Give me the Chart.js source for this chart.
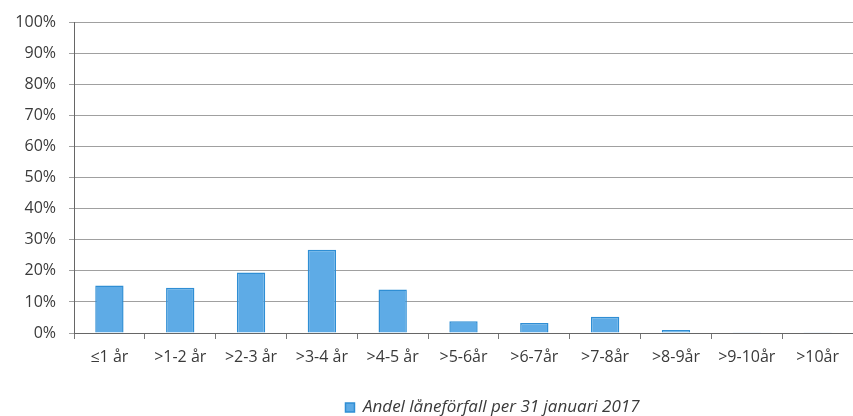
<!DOCTYPE html>
<html>
<head>
<meta charset="utf-8">
<script src="https://cdn.jsdelivr.net/npm/chart.js@4"></script>
<style>
html,body{margin:0;padding:0;background:#fff;overflow:hidden;}
#wrap{width:853px;height:416px;}
</style>
</head>
<body>
<div id="wrap"><canvas id="c" width="853" height="416"></canvas></div>
<script>
const categories = ["≤1 år", ">1-2 år", ">2-3 år", ">3-4 år", ">4-5 år", ">5-6år", ">6-7år", ">7-8år", ">8-9år", ">9-10år", ">10år"];
const shareValues = [15.3, 14.6, 19.5, 26.8, 14.0, 3.8, 3.2, 5.2, 1.0, 0.1, 0.1];
const seriesName = "Andel låneförfall per 31 januari 2017";
const yTicks = [0, 10, 20, 30, 40, 50, 60, 70, 80, 90, 100];

const textColor = '#3a3a3a';
const fontFamily = "'Open Sans', 'Liberation Sans', sans-serif";

const shiftLegend = {
  id: 'shiftLegend',
  afterLayout(chart) {
    const lg = chart.legend;
    if (lg) { lg.left += 66; lg.right += 66; }
  }
};

new Chart(document.getElementById('c'), {
  type: 'bar',
  data: {
    labels: categories,
    datasets: [{
      label: seriesName,
      data: shareValues,
      backgroundColor: '#5eabe6',
      borderColor: '#2f8ed4',
      borderWidth: 1.5,
      barPercentage: 0.5,
      categoryPercentage: 0.8
    }]
  },
  options: {
    responsive: false,
    animation: false,
    layout: { padding: { top: 20, right: 0, left: 0, bottom: -10 } },
    plugins: {
      tooltip: { enabled: false },
      legend: {
        position: 'bottom',
        labels: {
          boxWidth: 9, boxHeight: 9,
          color: textColor,
          padding: 0,
          font: { family: fontFamily, size: 17, style: 'italic' }
        }
      }
    },
    scales: {
      x: {
        afterFit(scale) { scale.height = 66; },
        grid: { drawOnChartArea: false, drawTicks: true, tickLength: 6, color: '#777', offset: true },
        border: { display: true, color: '#666', width: 1 },
        ticks: { color: textColor, padding: 9, maxRotation: 0, autoSkip: false, font: { family: fontFamily, size: 16 } }
      },
      y: {
        min: 0, max: 100,
        afterFit(scale) { scale.width = 74; },
        afterBuildTicks(scale) { scale.ticks = yTicks.map(v => ({ value: v })); },
        grid: { color: '#a0a0a0', lineWidth: 1, drawTicks: true, tickLength: 5 },
        border: { display: true, color: '#666', width: 1 },
        ticks: { color: textColor, padding: 13, callback: v => v + '%', font: { family: fontFamily, size: 16 } }
      }
    }
  },
  plugins: [shiftLegend]
});
</script>
</body>
</html>
